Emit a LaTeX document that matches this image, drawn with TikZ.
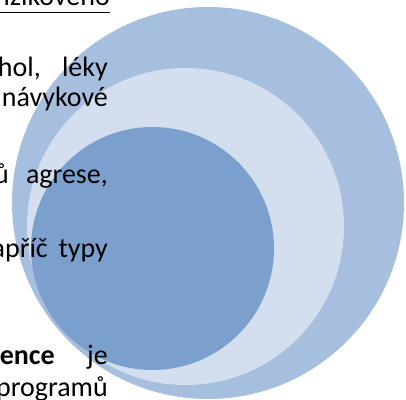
\documentclass[tikz,border=0pt]{standalone}
\usepackage{fontspec}
\setmainfont{Carlito}
\definecolor{outerc}{HTML}{A7BFDF}
\definecolor{midc}{HTML}{D3DFEE}
\definecolor{innerc}{HTML}{7BA0CD}
\newcommand{\bigtxt}{\fontsize{28}{32}\selectfont}
\begin{document}
\begin{tikzpicture}[x=1pt,y=1pt,
  txt/.style={inner sep=0pt, anchor=base east}]
\useasboundingbox (0,0) rectangle (406,399);
\clip (0,0) rectangle (406,399);
% circles
\fill[outerc] (208,196) circle (196);
\fill[midc] (185.5,172.5) circle (158.5);
\fill[innerc] (152.5,150.5) circle (121.5);
% text lines
\node[txt] (l1) at (110,393) {\bigtxt rizikového};
\draw[line width=1.8pt] ([yshift=-6.5pt]l1.base west) -- ([yshift=-6.5pt]l1.base east);
\node[txt] (l2a) at (41,322) {\bigtxt alkohol,};
\node[txt] (l2b) at (108,322) {\bigtxt léky};
\node[txt] (l3) at (108,292) {\bigtxt návykové};
\node[txt] (l4a) at (9,215) {\bigtxt typů};
\node[txt] (l4b) at (108,215) {\bigtxt agrese,};
\node[txt] (l5a) at (48,142) {\bigtxt napříč};
\node[txt] (l5b) at (108,142) {\bigtxt typy};
\node[txt] (l6a) at (55,35) {\bigtxt\bfseries Prevence};
\node[txt] (l6b) at (108,35) {\bigtxt je};
\node[txt] (l7) at (108,3) {\bigtxt programů};
\end{tikzpicture}
\end{document}
